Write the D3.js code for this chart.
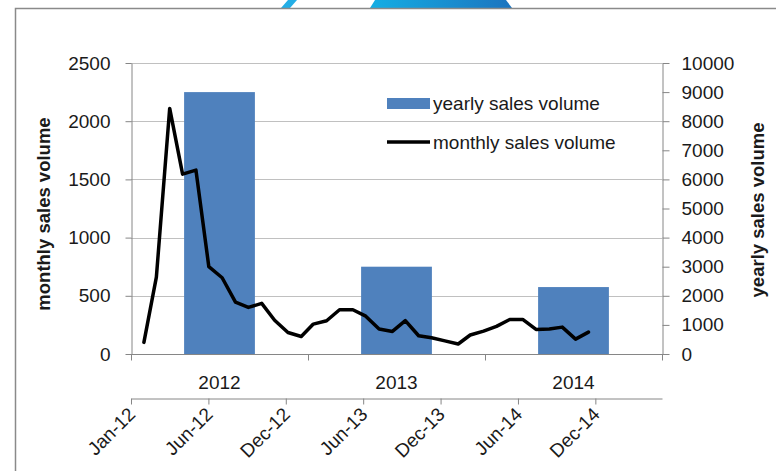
<!DOCTYPE html>
<html>
<head>
<meta charset="utf-8">
<script src="https://cdn.jsdelivr.net/npm/d3@7"></script>
<style>
  body { margin: 0; background: #fff; }
  svg { display: block; font-family: "Liberation Sans", Arial, sans-serif; }
</style>
</head>
<body>
<div id="vis"></div>
<script>
// Data
const YEARS = ["2012", "2013", "2014"];
const YEARLY_SALES = [9000, 3000, 2300];

const MONTHS = ["Jan-12", "Feb-12", "Mar-12", "Apr-12", "May-12", "Jun-12",
                "Jul-12", "Aug-12", "Sep-12", "Oct-12", "Nov-12", "Dec-12",
                "Jan-13", "Feb-13", "Mar-13", "Apr-13", "May-13", "Jun-13",
                "Jul-13", "Aug-13", "Sep-13", "Oct-13", "Nov-13", "Dec-13",
                "Jan-14", "Feb-14", "Mar-14", "Apr-14", "May-14", "Jun-14",
                "Jul-14", "Aug-14", "Sep-14", "Oct-14", "Nov-14"];
const MONTHLY_SALES = [100, 660, 2110, 1545, 1580, 750, 655, 445, 400, 435, 290, 185,
                       150, 257, 286, 380, 380, 325, 214, 194, 286, 157, 140, 113,
                       86, 163, 197, 237, 297, 297, 211, 214, 231, 128, 188];

const LEFT_TICKS = [0, 500, 1000, 1500, 2000, 2500];
const RIGHT_TICKS = [0, 1000, 2000, 3000, 4000, 5000, 6000, 7000, 8000, 9000, 10000];
const DATE_TICKS = ["2012-01-01", "2012-06-29", "2012-12-26", "2013-06-24",
                    "2013-12-21", "2014-06-19", "2014-12-16"];
const DATE_START = "2012-01-01";
const DATE_END = "2015-05-20";

// Frame and plot box
const FRAME_WIDTH = 776;
const FRAME_HEIGHT = 471;
const PLOT = {left: 131, right: 662, top: 63, bottom: 354};
const DATE_AXIS_Y = 398;

const AXIS_COLOR = "#868686";
const GRID_COLOR = "#c0c0c0";
const TEXT_COLOR = "#1a1a1a";
const BAR_COLOR = "#4f81bd";

const FRAME = d3.select("#vis")
                .append("svg")
                  .attr("width", FRAME_WIDTH)
                  .attr("height", FRAME_HEIGHT);

// Bits of a logo peeking over the top edge
const GRAD = FRAME.append("defs").append("linearGradient")
                  .attr("id", "logo")
                  .attr("x1", "0").attr("x2", "1");
GRAD.append("stop").attr("offset", "0").attr("stop-color", "#14aee4");
GRAD.append("stop").attr("offset", "1").attr("stop-color", "#1c74bf");
FRAME.append("polygon")
     .attr("points", "281,8 290,8 297,0 288,0")
     .attr("fill", "#23aee6");
FRAME.append("polygon")
     .attr("points", "370,8 512,8 506,0 375,0")
     .attr("fill", "url(#logo)");

// Outer border of the chart
FRAME.append("rect")
     .attr("x", 15.5).attr("y", 8.5)
     .attr("width", 900).attr("height", 600)
     .attr("fill", "none")
     .attr("stroke", "#8a8a8a")
     .attr("stroke-width", 1.5);

// Scales
const parseDay = d3.timeParse("%Y-%m-%d");
const parseMonth = d3.timeParse("%b-%y");
const fmtMonth = d3.timeFormat("%b-%y");

const Y_LEFT = d3.scaleLinear()
                 .domain([0, 2500])
                 .range([PLOT.bottom, PLOT.top]);

const Y_RIGHT = d3.scaleLinear()
                  .domain([0, 10000])
                  .range([PLOT.bottom, PLOT.top]);

const X_BAND = d3.scaleBand()
                 .domain(YEARS)
                 .range([PLOT.left, PLOT.right])
                 .paddingInner(0.6)
                 .paddingOuter(0.3);

const X_TIME = d3.scaleTime()
                 .domain([parseDay(DATE_START), parseDay(DATE_END)])
                 .range([PLOT.left, PLOT.right]);

// monthly points sit at the end of each month
const monthEnd = (m) => d3.timeDay.offset(d3.timeMonth.offset(parseMonth(m), 1), -1);

// Gridlines
FRAME.append("g")
     .selectAll("line")
     .data(LEFT_TICKS.slice(1))
     .enter()
     .append("line")
       .attr("x1", PLOT.left).attr("x2", PLOT.right)
       .attr("y1", (d) => Math.round(Y_LEFT(d)) + 0.5)
       .attr("y2", (d) => Math.round(Y_LEFT(d)) + 0.5)
       .attr("stroke", GRID_COLOR);

// Yearly bars
FRAME.append("g")
     .selectAll("rect")
     .data(YEARS)
     .enter()
     .append("rect")
       .attr("x", (d) => X_BAND(d))
       .attr("y", (d, i) => Y_RIGHT(YEARLY_SALES[i]))
       .attr("width", X_BAND.bandwidth())
       .attr("height", (d, i) => PLOT.bottom - Y_RIGHT(YEARLY_SALES[i]))
       .attr("fill", BAR_COLOR);

// Monthly line
const LINE = d3.line()
               .x((d, i) => X_TIME(monthEnd(MONTHS[i])))
               .y((d) => Y_LEFT(d));

FRAME.append("path")
     .datum(MONTHLY_SALES)
     .attr("d", LINE)
     .attr("fill", "none")
     .attr("stroke", "#000")
     .attr("stroke-width", 3.5)
     .attr("stroke-linejoin", "round")
     .attr("stroke-linecap", "round");

// helper to grey the axis lines and set label font
function styleAxis(g) {
  g.selectAll("path, line").attr("stroke", AXIS_COLOR);
  g.selectAll("text").attr("fill", TEXT_COLOR).attr("font-size", "19px");
}

// Left axis
FRAME.append("g")
     .attr("transform", "translate(" + (PLOT.left + 0.5) + ",0)")
     .call(d3.axisLeft(Y_LEFT).tickValues(LEFT_TICKS).tickFormat(d3.format("d"))
             .tickSize(6).tickSizeOuter(0).tickPadding(15))
     .call(styleAxis)
     .attr("font-family", null);

// Right axis
FRAME.append("g")
     .attr("transform", "translate(" + (PLOT.right + 0.5) + ",0)")
     .call(d3.axisRight(Y_RIGHT).tickValues(RIGHT_TICKS).tickFormat(d3.format("d"))
             .tickSize(7).tickSizeOuter(0).tickPadding(12))
     .call(styleAxis)
     .attr("font-family", null);

// Year category axis along the zero line
const yearAxis = FRAME.append("g")
                      .attr("transform", "translate(0," + (PLOT.bottom + 0.5) + ")");
yearAxis.append("line")
        .attr("x1", PLOT.left).attr("x2", PLOT.right + 1)
        .attr("stroke", AXIS_COLOR);
yearAxis.selectAll("line.tick")
        .data(d3.range(YEARS.length + 1))
        .enter()
        .append("line")
          .attr("class", "tick")
          .attr("x1", (d) => Math.round(PLOT.left + d * X_BAND.step()) + 0.5)
          .attr("x2", (d) => Math.round(PLOT.left + d * X_BAND.step()) + 0.5)
          .attr("y1", 0).attr("y2", 6)
          .attr("stroke", AXIS_COLOR);
yearAxis.selectAll("text")
        .data(YEARS)
        .enter()
        .append("text")
          .attr("x", (d) => X_BAND(d) + X_BAND.bandwidth() / 2)
          .attr("y", 34)
          .attr("text-anchor", "middle")
          .attr("fill", TEXT_COLOR)
          .attr("font-size", "19px")
          .text((d) => d);

// Date axis below
const dateAxis = FRAME.append("g")
                      .attr("transform", "translate(0," + (DATE_AXIS_Y + 0.5) + ")")
                      .call(d3.axisBottom(X_TIME)
                              .tickValues(DATE_TICKS.map(parseDay))
                              .tickFormat(fmtMonth)
                              .tickSize(6)
                              .tickSizeOuter(0))
                      .call(styleAxis)
                      .attr("font-family", null);
dateAxis.selectAll("text")
        .attr("text-anchor", "end")
        .attr("dy", null)
        .attr("y", null)
        .attr("transform", "translate(5,17) rotate(-45)");

// Axis titles
FRAME.append("text")
     .attr("transform", "translate(50,214) rotate(-90)")
     .attr("text-anchor", "middle")
     .attr("font-size", "18.5px")
     .attr("font-weight", "bold")
     .attr("fill", TEXT_COLOR)
     .text("monthly sales volume");

FRAME.append("text")
     .attr("transform", "translate(764,210) rotate(-90)")
     .attr("text-anchor", "middle")
     .attr("font-size", "18.5px")
     .attr("font-weight", "bold")
     .attr("fill", TEXT_COLOR)
     .text("yearly sales volume");

// Legend
const LEGEND = FRAME.append("g").attr("transform", "translate(387,0)");
LEGEND.append("rect")
      .attr("x", 0).attr("y", 98)
      .attr("width", 43).attr("height", 11)
      .attr("fill", BAR_COLOR);
LEGEND.append("text")
      .attr("x", 46).attr("y", 110)
      .attr("font-size", "19px")
      .attr("fill", TEXT_COLOR)
      .text("yearly sales volume");
LEGEND.append("line")
      .attr("x1", 0).attr("x2", 43)
      .attr("y1", 142).attr("y2", 142)
      .attr("stroke", "#000")
      .attr("stroke-width", 3.5);
LEGEND.append("text")
      .attr("x", 46).attr("y", 149)
      .attr("font-size", "19px")
      .attr("fill", TEXT_COLOR)
      .text("monthly sales volume");
</script>
</body>
</html>
